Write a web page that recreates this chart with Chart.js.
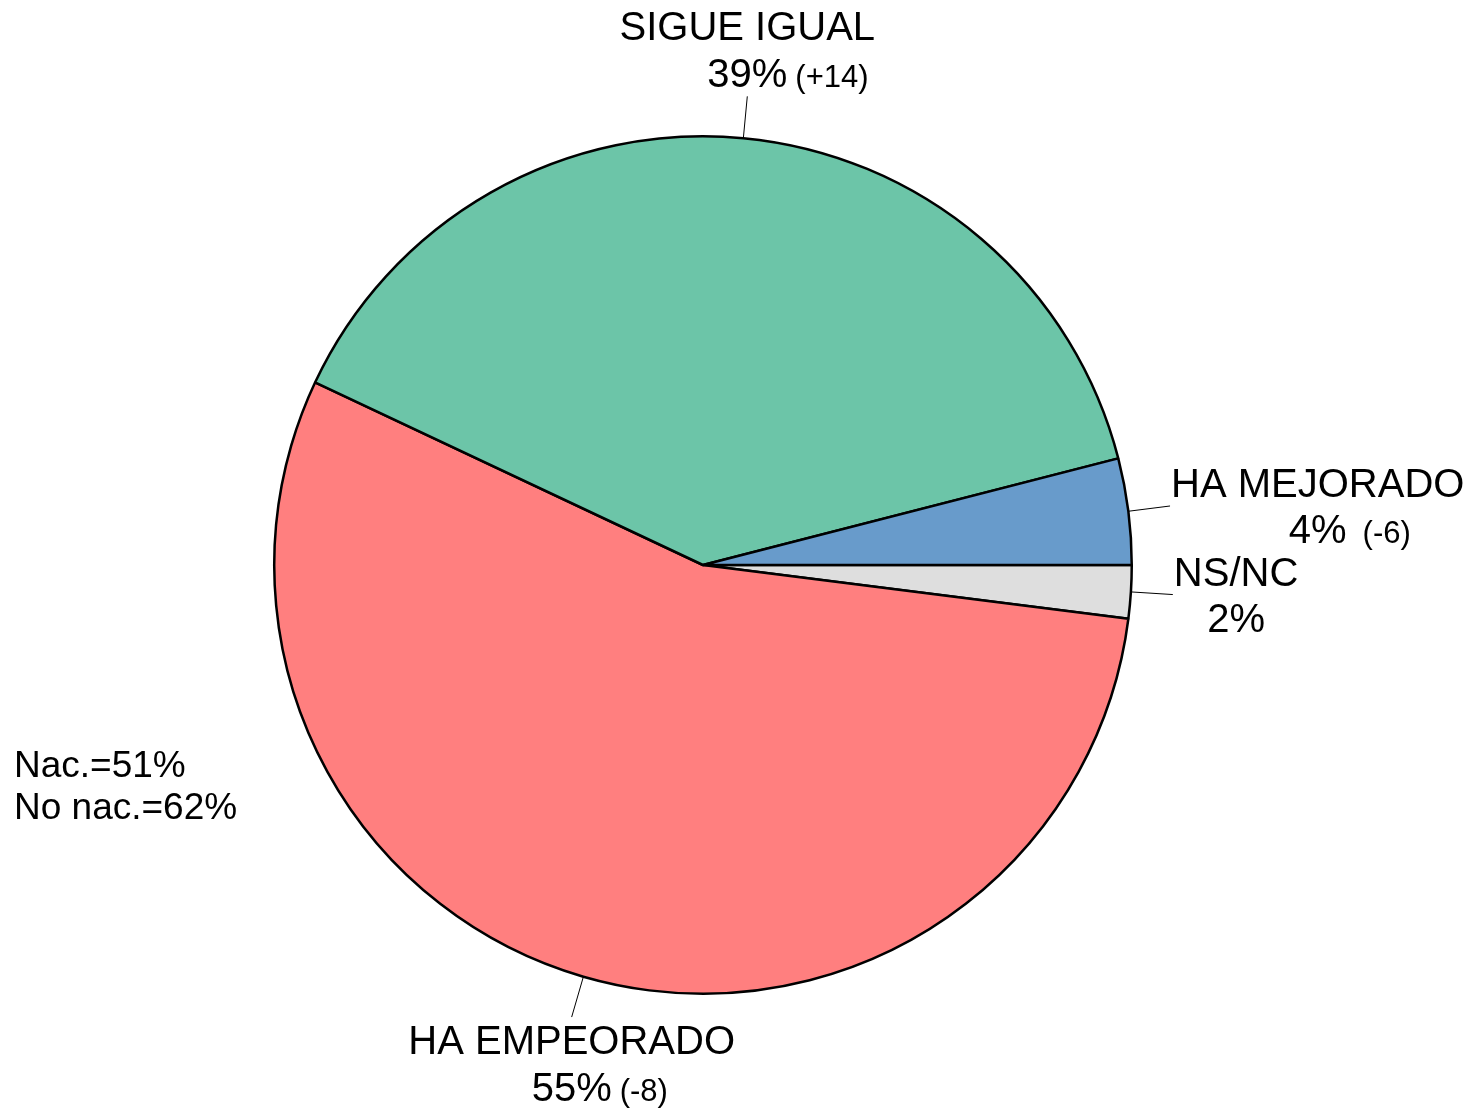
<!DOCTYPE html>
<html>
<head>
<meta charset="utf-8">
<script src="https://cdn.jsdelivr.net/npm/chart.js@4.4.0/dist/chart.umd.min.js"></script>
<style>
  html, body { margin: 0; padding: 0; background: #ffffff; }
  #wrap { width: 1476px; height: 1109px; position: relative; }
</style>
</head>
<body>
<div id="wrap"><canvas id="c" width="1476" height="1109"></canvas></div>
<script>
// ---- data (drawn clockwise from 3 o'clock) ----
const categories = ['NS/NC', 'HA EMPEORADO', 'SIGUE IGUAL', 'HA MEJORADO'];
const values = [2, 55, 39, 4];
const changes = ['', '(-8)', '(+14)', '(-6)'];
const noteLines = ['Nac.=51%', 'No nac.=62%'];

// ---- styles ----
const colors = ['#DEDEDE', '#FF7F7F', '#6CC5A8', '#689BCB'];
const labelSide = ['right', 'bottom', 'top', 'right'];
const changeGap = [8, 8, 8, 16];
const FONT = '"Liberation Sans", Arial, Helvetica, sans-serif';

const labelPlugin = {
  id: 'pieLabels',
  afterDraw(chart) {
    const ctx = chart.ctx;
    const meta = chart.getDatasetMeta(0);
    ctx.save();
    meta.data.forEach((arc, i) => {
      const p = arc.getProps(['x', 'y', 'startAngle', 'endAngle', 'outerRadius'], true);
      const mid = (p.startAngle + p.endAngle) / 2;
      const c = Math.cos(mid), s = Math.sin(mid);
      const r0 = p.outerRadius, r1 = p.outerRadius + 42;
      const sx = p.x + c * r0, sy = p.y + s * r0;
      const ex = p.x + c * r1, ey = p.y + s * r1;
      ctx.strokeStyle = '#000';
      ctx.lineWidth = 1;
      ctx.beginPath();
      ctx.moveTo(sx, sy);
      ctx.lineTo(ex, ey);
      ctx.stroke();

      ctx.fillStyle = '#000';
      ctx.font = '40px ' + FONT;
      const title = categories[i];
      const val = values[i] + '%';
      const tw = ctx.measureText(title).width;
      let cx, b1;
      const side = labelSide[i];
      if (side === 'right') { cx = ex + 1 + tw / 2; b1 = ey - 9; }
      else if (side === 'top') { cx = ex; b1 = ey - 56; }
      else { cx = ex; b1 = ey + 37; }
      const b2 = b1 + 46.5;
      ctx.textAlign = 'center';
      ctx.textBaseline = 'alphabetic';
      ctx.fillText(title, cx, b1);
      ctx.fillText(val, cx, b2);
      const vw = ctx.measureText(val).width;
      if (changes[i]) {
        ctx.font = '31px ' + FONT;
        ctx.textAlign = 'left';
        ctx.fillText(changes[i], cx + vw / 2 + changeGap[i], b2);
      }
    });
    // note text
    ctx.font = '37px ' + FONT;
    ctx.textAlign = 'left';
    ctx.fillStyle = '#000';
    ctx.fillText(noteLines[0], 14, 777);
    ctx.fillText(noteLines[1], 14, 819);
    ctx.restore();
  }
};

new Chart(document.getElementById('c'), {
  type: 'pie',
  data: {
    labels: categories,
    datasets: [{
      data: values,
      backgroundColor: colors,
      borderColor: '#000000',
      borderWidth: 2.5,
      borderAlign: 'center'
    }]
  },
  options: {
    responsive: false,
    animation: false,
    rotation: 90,
    layout: { padding: { left: 273, right: 343, top: 135, bottom: 114 } },
    plugins: {
      legend: { display: false },
      tooltip: { enabled: false }
    }
  },
  plugins: [labelPlugin]
});
</script>
</body>
</html>
